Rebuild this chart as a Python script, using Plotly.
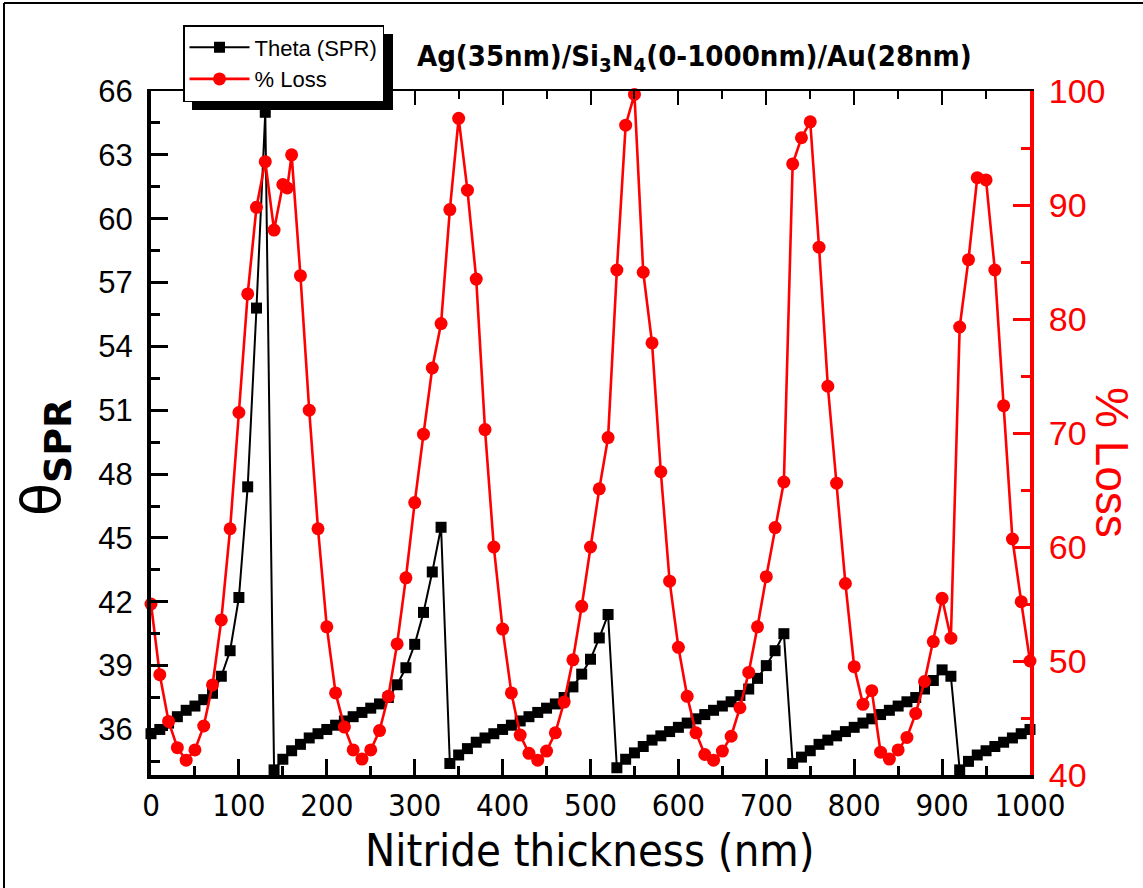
import plotly.graph_objects as go

# ---------------- data ----------------
theta_x = list(range(0, 1001, 10))
theta_y = [
    35.8, 36.0, 36.3, 36.6, 36.9, 37.1, 37.4, 37.7, 38.5, 39.7,   # 0-90
    42.2, 47.4, 55.8, 65.0, 34.1, 34.6, 35.0, 35.3, 35.6, 35.8,   # 100-190
    36.0, 36.2, 36.4, 36.6, 36.8, 37.0, 37.2, 37.5, 38.1, 38.9,   # 200-290
    40.0, 41.5, 43.4, 45.5, 34.4, 34.8, 35.1, 35.4, 35.6, 35.8,   # 300-390
    36.0, 36.2, 36.4, 36.6, 36.8, 37.0, 37.2, 37.5, 38.0, 38.6,   # 400-490
    39.3, 40.3, 41.4, 34.2, 34.6, 34.9, 35.2, 35.5, 35.7, 35.9,   # 500-590
    36.1, 36.3, 36.5, 36.7, 36.9, 37.1, 37.3, 37.6, 37.9, 38.4,   # 600-690
    39.0, 39.7, 40.5, 34.4, 34.7, 35.0, 35.3, 35.5, 35.7, 35.9,   # 700-790
    36.1, 36.3, 36.5, 36.7, 36.9, 37.1, 37.3, 37.5, 37.9, 38.3,   # 800-890
    38.8, 38.5, 34.1, 34.5, 34.8, 35.0, 35.2, 35.4, 35.6, 35.8,   # 900-990
    36.0,                                                         # 1000
]

loss_x = list(range(0, 151, 10)) + [155] + list(range(160, 1001, 10))
loss_y = [
    55.0, 48.8, 44.7, 42.4, 41.3, 42.2, 44.3, 47.9, 53.6, 61.6,   # 0-90
    71.8, 82.2, 89.8, 93.8, 87.8, 91.8, 91.5,                     # 100-155
    94.4, 83.8, 72.0, 61.6, 53.0, 47.2, 44.2, 42.2, 41.4, 42.2,   # 160-250
    43.9, 46.9, 51.5, 57.3, 63.9, 69.9, 75.7, 79.6, 89.6, 97.6,   # 260-350
    91.3, 83.5, 70.3, 60.0, 52.8, 47.2, 43.5, 41.9, 41.3, 42.1,   # 360-450
    43.7, 46.4, 50.1, 54.8, 60.0, 65.1, 69.6, 84.3, 97.0, 99.7,   # 460-550
    84.1, 77.9, 66.6, 57.0, 51.2, 46.9, 43.7, 41.8, 41.3, 42.1,   # 560-650
    43.4, 45.9, 49.0, 53.0, 57.4, 61.7, 65.7, 93.6, 95.9, 97.3,   # 660-750
    86.3, 74.1, 65.6, 56.8, 49.5, 46.2, 47.4, 42.0, 41.4, 42.2,   # 760-850
    43.3, 45.4, 48.2, 51.7, 55.5, 52.0, 79.3, 85.2, 92.4, 92.2,   # 860-950
    84.3, 72.4, 60.7, 55.2, 50.0,                                 # 960-1000
]

x_ticks = list(range(0, 1001, 100))
theta_ticks = list(range(36, 67, 3))
loss_ticks = list(range(40, 101, 10))

# ---------------- geometry helpers ----------------
W, H = 1143, 888
L, R, T, B = 151, 1030, 91, 775


def px(x):
    return (x - L) / (R - L)


def py(y):
    return (B - y) / (B - T)


SANS = "Liberation Sans, Arial, sans-serif"
NARROW = "Liberation Sans Narrow, Arial Narrow, DejaVu Sans Condensed, Liberation Sans, sans-serif"

fig = go.Figure()

fig.add_trace(go.Scatter(
    x=theta_x, y=theta_y, name="Theta (SPR)", mode="lines+markers",
    line=dict(color="black", width=2),
    marker=dict(symbol="square", size=11, color="black"),
    cliponaxis=False, xaxis="x", yaxis="y",
))
fig.add_trace(go.Scatter(
    x=loss_x, y=loss_y, name="% Loss", mode="lines+markers",
    line=dict(color="#ff0000", width=2.6),
    marker=dict(symbol="circle", size=13, color="#ff0000"),
    cliponaxis=False, xaxis="x", yaxis="y2",
))
# invisible trace to carry the mirrored top axis
fig.add_trace(go.Scatter(
    x=[0, 1000], y=[40, 40], mode="lines", line=dict(width=0),
    showlegend=False, hoverinfo="skip", xaxis="x2", yaxis="y",
    opacity=0,
))

# legend box (as rendered) for the drop shadow
LEG_L, LEG_T, LEG_R, LEG_B = 183, 25, 384, 101
SH = 9

fig.update_layout(
    width=W, height=H,
    margin=dict(l=L, r=W - R, t=T, b=H - B),
    paper_bgcolor="white", plot_bgcolor="white",
    showlegend=True,
    legend=dict(
        x=px(LEG_L), y=py(LEG_T), xanchor="left", yanchor="top",
        bgcolor="white", bordercolor="black", borderwidth=1.5,
        font=dict(family=SANS, size=22, color="black"),
        tracegroupgap=0, itemwidth=60,
    ),
    xaxis=dict(
        range=[0, 1000], tickvals=x_ticks, ticktext=[str(v) for v in x_ticks],
        showline=True, linecolor="black", linewidth=4, mirror=False,
        ticks="inside", ticklen=16, tickwidth=3, tickcolor="black",
        minor=dict(ticks="inside", ticklen=9, tickwidth=3, tickcolor="black", dtick=50, tick0=0),
        showgrid=False, zeroline=False,
        tickfont=dict(family=NARROW, size=31, color="black"),
        anchor="y",
    ),
    xaxis2=dict(
        range=[0, 1000], overlaying="x", side="top", matches="x",
        showline=True, linecolor="black", linewidth=2,
        ticks="inside", ticklen=14, tickwidth=2, tickcolor="black", dtick=100, tick0=0,
        minor=dict(ticks="inside", ticklen=8, tickwidth=2, tickcolor="black", dtick=50, tick0=0),
        showticklabels=False, showgrid=False, zeroline=False, anchor="y",
    ),
    yaxis=dict(
        range=[33.86, 66], tickvals=theta_ticks, ticktext=[str(v) for v in theta_ticks],
        showline=True, linecolor="black", linewidth=4, mirror=False,
        ticks="inside", ticklen=17, tickwidth=3, tickcolor="black",
        minor=dict(ticks="inside", ticklen=9, tickwidth=3, tickcolor="black", dtick=1.5, tick0=36),
        showgrid=False, zeroline=False,
        tickfont=dict(family=SANS, size=31, color="black"),
        ticklabelstandoff=8,
    ),
    yaxis2=dict(
        range=[40, 100], tickvals=loss_ticks, ticktext=[str(v) for v in loss_ticks],
        overlaying="y", side="right", anchor="x",
        showline=True, linecolor="#ff0000", linewidth=4,
        ticks="inside", ticklen=17, tickwidth=3, tickcolor="#ff0000",
        minor=dict(ticks="inside", ticklen=9, tickwidth=3, tickcolor="#ff0000", dtick=5, tick0=40),
        showgrid=False, zeroline=False,
        tickfont=dict(family=SANS, size=34, color="#ff0000"),
        ticklabelstandoff=8,
    ),
    shapes=[
        # legend shadow
        dict(type="rect", xref="paper", yref="paper",
             x0=px(LEG_L + SH), x1=px(LEG_R + SH), y0=py(LEG_B + SH), y1=py(LEG_T + SH),
             fillcolor="black", line=dict(width=0), layer="above"),
        # outer frame (left and top)
        dict(type="line", xref="paper", yref="paper",
             x0=px(4), x1=px(4), y0=py(888), y1=py(3),
             line=dict(color="black", width=2)),
        dict(type="line", xref="paper", yref="paper",
             x0=px(4), x1=px(1143), y0=py(3), y1=py(3),
             line=dict(color="black", width=2)),
    ],
    annotations=[
        dict(text="<b>Ag(35nm)/Si<sub>3</sub>N<sub>4</sub>(0-1000nm)/Au(28nm)</b>",
             xref="paper", yref="paper", x=px(694), y=py(58),
             xanchor="center", yanchor="middle", showarrow=False,
             font=dict(family=NARROW, size=29, color="black")),
        dict(text="Nitride thickness (nm)",
             xref="paper", yref="paper", x=px(590), y=py(850),
             xanchor="center", yanchor="middle", showarrow=False,
             font=dict(family=NARROW, size=45, color="black")),
        dict(text="θ<sub><b>SPR</b></sub>",
             xref="paper", yref="paper", x=px(45), y=py(458),
             xanchor="center", yanchor="middle", showarrow=False, textangle=-90,
             font=dict(family="DejaVu Sans, sans-serif", size=54, color="black")),
        dict(text="% Loss",
             xref="paper", yref="paper", x=px(1112), y=py(462),
             xanchor="center", yanchor="middle", showarrow=False, textangle=90,
             font=dict(family=SANS, size=46, color="#ff0000")),
    ],
)

fig.write_html("out.html")
